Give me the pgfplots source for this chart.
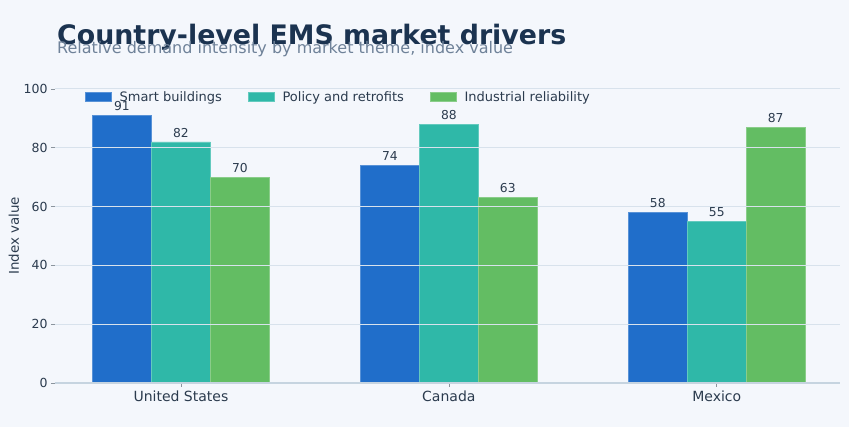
\documentclass[border=0pt]{standalone}
\usepackage{fontspec}
\setmainfont{DejaVu Sans}
\usepackage{pgfplots}
\pgfplotsset{compat=1.18}
\definecolor{bg}{HTML}{F4F7FC}
\definecolor{titlec}{HTML}{1B3350}
\definecolor{subc}{HTML}{6F8299}
\definecolor{textc}{HTML}{2B3B4E}
\definecolor{gridc}{HTML}{D8E2EC}
\definecolor{axisc}{HTML}{C6D4E0}
\definecolor{cblue}{HTML}{206ECA}
\definecolor{cteal}{HTML}{2FB8A8}
\definecolor{cgreen}{HTML}{63BD63}
\begin{document}
\begin{tikzpicture}[x=1pt,y=1pt]
\fill[bg] (0,0) rectangle (849,427);
\node[anchor=base west, font=\fontsize{26.8}{30}\selectfont\bfseries, text=titlec, inner sep=0] at (57,382) {Country-level EMS market drivers};
\node[anchor=base west, font=\fontsize{16}{18}\selectfont, text=subc, inner sep=0] at (57,373) {Relative demand intensity by market theme, index value};
\begin{axis}[
  at={(55pt,44pt)}, anchor=south west, scale only axis,
  width=785pt, height=294pt,
  xmin=-0.47, xmax=2.46, ymin=0, ymax=100,
  ybar=0pt, bar width=0.22,
  xtick={0,1,2}, xticklabels={United States,Canada,Mexico},
  ytick={0,20,40,60,80,100},
  axis on top,
  ymajorgrids, grid style={color=gridc, line width=1pt},
  axis x line*=bottom, axis y line*=left,
  y axis line style={draw=none},
  x axis line style={color=axisc, line width=1.2pt, -},
  tick align=outside, major tick length=4pt,
  tick style={color=axisc!70!black, line width=0.6pt},
  /pgf/number format/assume math mode=true,
  yticklabel style={font=\fontsize{12.5}{14}\selectfont, text=textc},
  xticklabel style={font=\fontsize{14}{16}\selectfont, text=textc},
  ylabel={Index value},
  every axis y label/.style={rotate=90, anchor=center, at={(-41pt,147pt)}, font=\fontsize{13.4}{16}\selectfont, text=textc},
  nodes near coords,
  every node near coord/.append style={font=\fontsize{12.3}{14}\selectfont, text=textc, yshift=1pt},
  legend columns=3,
  legend style={at={(0.034,0.973)}, anchor=west, draw=none, fill=none,
    font=\fontsize{13}{15}\selectfont, text=textc,
    /tikz/every odd column/.append style={column sep=6pt},
    /tikz/every even column/.append style={column sep=24pt}},
  legend image code/.code={\fill[#1] (0pt,-4.5pt) rectangle (26pt,4.5pt);},
]
\addplot[fill=cblue, draw=cblue!75!white, line width=0.7pt] coordinates {(0,91) (1,74) (2,58)};
\addplot[fill=cteal, draw=cteal!75!white, line width=0.7pt] coordinates {(0,82) (1,88) (2,55)};
\addplot[fill=cgreen, draw=cgreen!75!white, line width=0.7pt] coordinates {(0,70) (1,63) (2,87)};
\legend{Smart buildings, Policy and retrofits, Industrial reliability}
\end{axis}
\end{tikzpicture}
\end{document}
